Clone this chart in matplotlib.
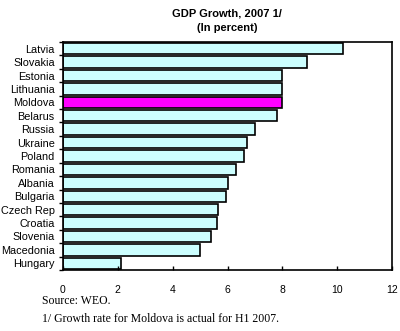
import matplotlib
matplotlib.use("Agg")
import matplotlib.pyplot as plt
import numpy as np

countries = ["Latvia", "Slovakia", "Estonia", "Lithuania", "Moldova", "Belarus", "Russia",
             "Ukraine", "Poland", "Romania", "Albania", "Bulgaria", "Czech Rep", "Croatia",
             "Slovenia", "Macedonia", "Hungary"]
growth = [10.2, 8.9, 8.0, 8.0, 8.0, 7.8, 7.0, 6.7, 6.6, 6.3, 6.0, 5.95, 5.65, 5.6, 5.4, 5.0, 2.1]
highlight = "Moldova"
xticks = [0, 2, 4, 6, 8, 10, 12]

plt.rcParams['font.family'] = ['Liberation Sans', 'DejaVu Sans']

fig = plt.figure(figsize=(4.0, 3.31), dpi=100)
ax = fig.add_axes([63/400, 1-270/331, (392-63)/400, (270-42)/331])

y = np.arange(len(countries))
colors = ["#FF00FF" if c == highlight else "#CCFFFF" for c in countries]
ax.barh(y, growth, height=0.85, color=colors, edgecolor="black", linewidth=1.2)
ax.set_ylim(len(countries) - 0.5, -0.5)
ax.set_xlim(0, 12)
ax.set_yticks(y)
ax.set_yticklabels(countries, fontsize=7.8)
ax.set_yticks(np.arange(-0.5, len(countries), 1), minor=True)
ax.tick_params(axis='y', which='major', length=0, pad=6)
ax.tick_params(axis='y', which='minor', length=3, direction='out', width=1)
ax.set_xticks(xticks)
ax.set_xticklabels([str(t) for t in xticks], fontsize=7.5)
ax.tick_params(axis='x', direction='in', length=3, pad=10.5, width=1)
for s in ax.spines.values():
    s.set_linewidth(1.2)

fig.text(227/400, 1-14/331, "GDP Growth, 2007 1/", ha='center', va='center',
         fontsize=8, fontweight='bold')
fig.text(227/400, 1-28/331, "(In percent)", ha='center', va='center',
         fontsize=8, fontweight='bold')
fig.text(42/400, 1-304.5/331, "Source: WEO.", ha='left', va='baseline',
         fontsize=8.5, family=['Liberation Serif', 'DejaVu Serif'])
fig.text(42/400, 1-321.5/331, "1/ Growth rate for Moldova is actual for H1 2007.", ha='left',
         va='baseline', fontsize=8.5, family=['Liberation Serif', 'DejaVu Serif'])

fig.savefig("out.png", dpi=100)
